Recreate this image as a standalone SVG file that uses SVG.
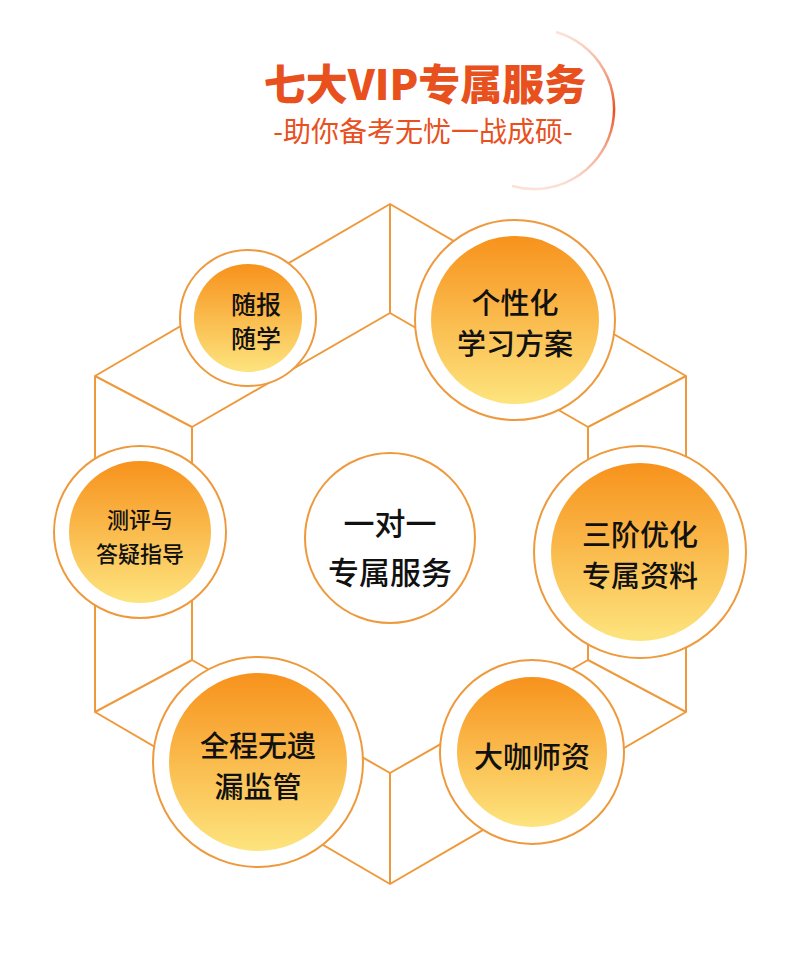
<svg xmlns="http://www.w3.org/2000/svg" width="800" height="966" viewBox="0 0 800 966">
<defs>
<linearGradient id="g" x1="0" y1="0" x2="0" y2="1"><stop offset="0" stop-color="#f7921c"/><stop offset="1" stop-color="#fde47e"/></linearGradient>
<linearGradient id="arc" x1="0" y1="0" x2="0" y2="1"><stop offset="0" stop-color="#f4a080" stop-opacity="0.3"/><stop offset="0.5" stop-color="#e8501e"/><stop offset="1" stop-color="#f4a080" stop-opacity="0.3"/></linearGradient>
<style>
.ln{fill:none;stroke:#ee9a3c;stroke-width:2;stroke-linejoin:round}
.ring{fill:#fff;stroke:#ee9a3c;stroke-width:2}
.core{fill:url(#g)}
.t{font-family:"Noto Sans CJK SC","Noto Sans",sans-serif;font-weight:500;fill:#111;text-anchor:middle}
</style>
</defs>
<rect width="800" height="966" fill="#fff"/>
<g id="title">
<path d="M556 32 A78 78 0 0 1 512 186" fill="none" stroke="url(#arc)" stroke-width="2.5"/>
<text x="425" y="100" font-family="Noto Sans CJK SC,sans-serif" font-weight="900" font-size="42" fill="#e8501e" text-anchor="middle">七大VIP专属服务</text>
<text x="423" y="142" font-family="Noto Sans CJK SC,sans-serif" font-size="28" fill="#e8501e" text-anchor="middle">-助你备考无忧一战成硕-</text>
</g>
<g id="connectors">
<polygon class="ln" points="390,204 686,376 686,712 390,884 95,712 95,376"/>
<polygon class="ln" points="390,313 588,427 588,660 390,773 192,660 192,427"/>
<path class="ln" d="M390 204V313M686 376L588 427M686 712L588 660M390 884V773M95 712L192 660M95 376L192 427"/>
</g>
<g id="center"><circle class="ring" cx="390" cy="538" r="85"/>
<text class="t" x="390" y="535" font-size="31">一对一</text><text class="t" x="390" y="584" font-size="31">专属服务</text></g>
<g id="n1"><circle class="ring" cx="248" cy="318" r="68"/><circle class="core" cx="248" cy="318" r="54"/>
<text class="t" x="256" y="314" font-size="25">随报</text><text class="t" x="256" y="348" font-size="25">随学</text></g>
<g id="n2"><circle class="ring" cx="515" cy="320" r="100"/><circle class="core" cx="515" cy="320" r="84"/>
<text class="t" x="515" y="314" font-size="29">个性化</text><text class="t" x="515" y="355" font-size="29">学习方案</text></g>
<g id="n3"><circle class="ring" cx="140" cy="532" r="86"/><circle class="core" cx="140" cy="532" r="71"/>
<text class="t" x="140" y="528" font-size="22">测评与</text><text class="t" x="140" y="562" font-size="22">答疑指导</text></g>
<g id="n4"><circle class="ring" cx="640" cy="552" r="106"/><circle class="core" cx="640" cy="552" r="89"/>
<text class="t" x="640" y="546" font-size="29">三阶优化</text><text class="t" x="640" y="587" font-size="29">专属资料</text></g>
<g id="n5"><circle class="ring" cx="258" cy="762" r="105"/><circle class="core" cx="258" cy="762" r="89"/>
<text class="t" x="258" y="757" font-size="29">全程无遗</text><text class="t" x="258" y="798" font-size="29">漏监管</text></g>
<g id="n6"><circle class="ring" cx="532" cy="752" r="92"/><circle class="core" cx="532" cy="752" r="75"/>
<text class="t" x="532" y="768" font-size="29">大咖师资</text></g>
</svg>
